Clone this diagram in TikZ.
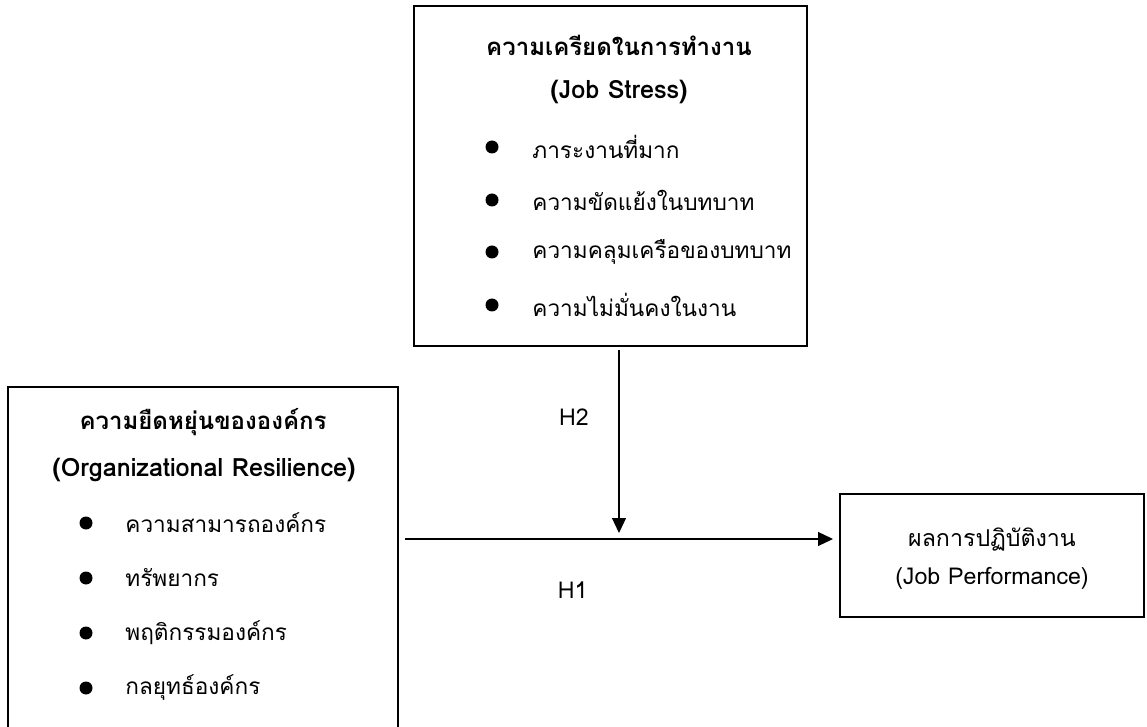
\documentclass[tikz,border=0pt]{standalone}
\usepackage{fontspec}
\setmainfont[Script=Thai]{Loma}
\usetikzlibrary{positioning,arrows.meta}

\tikzset{
  box/.style={draw,line width=1pt,inner sep=0pt},
  dot/.style={circle,fill,inner sep=0pt,minimum size=6.5pt},
  item/.style={anchor=west,inner sep=0pt,font=\fontsize{11.3}{14}\selectfont},
  head/.style={inner sep=0pt,font=\fontsize{12}{14}\selectfont\bfseries},
  headE/.style={inner sep=0pt,font=\fontsize{12.6}{14}\selectfont\bfseries},
  txt/.style={inner sep=0pt,font=\fontsize{11.6}{14}\selectfont},
  link/.style={line width=0.6pt,-{Triangle[length=7.5pt,width=7pt]}}
}

\begin{document}
\begin{tikzpicture}[x=0.5pt,y=-0.5pt]
  \useasboundingbox (0,0) rectangle (1147,727);
  % the three boxes
  \node[box,minimum width=196.5pt,minimum height=170pt] (stress) at (610.5,176) {};
  \node[box,minimum width=195pt,minimum height=186.5pt] (resil) at (203,573.5) {};
  \node[box,minimum width=152pt,minimum height=61.5pt] (perf) at (992,555.5) {};

  % job stress
  \node[head] (stressT) at (619,45) {ความเครียดในการทำงาน};
  \node[headE] (stressE) at (619,92) {(Job Stress)};
  \foreach \y/\t [count=\i] in {147/ภาระงานที่มาก,200/ความขัดแย้งในบทบาท,
      252/ความคลุมเครือของบทบาท,305/ความไม่มั่นคงในงาน} {
    \node[dot] (sd\i) at (492,\y) {};
    \node[item] (si\i) at (532,\y) {\t};
  }

  % organizational resilience
  \node[head] (resilT) at (203,422) {ความยืดหยุ่นขององค์กร};
  \node[headE] (resilE) at (204,470) {(Organizational Resilience)};
  \foreach \y/\t [count=\i] in {523/ความสามารถองค์กร,578/ทรัพยากร,
      633/พฤติกรรมองค์กร,688/กลยุทธ์องค์กร} {
    \node[dot] (rd\i) at (86,\y) {};
    \node[item] (ri\i) at (125,\y) {\t};
  }

  % job performance
  \node[txt] (perfT) at (992,540) {ผลการปฏิบัติงาน};
  \node[txt] (perfE) at (992,578) {(Job Performance)};

  % connectors
  \coordinate (meet) at (619,539);
  \draw[link,shorten <=3pt,shorten >=3pt] (resil.east |- meet) -- (perf.west |- meet)
    node[txt,pos=0.395,yshift=-25.5pt] (h1) {H1};
  \draw[link,shorten <=1.5pt,shorten >=3pt] (stress.south -| meet) -- (meet)
    node[txt,pos=0.366,xshift=-22.5pt] (h2) {H2};
\end{tikzpicture}
\end{document}
